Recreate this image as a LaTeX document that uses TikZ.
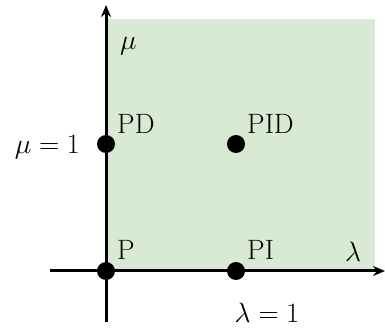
\RequirePackage{fix-cm}
\documentclass[tikz,border=0pt]{standalone}
\usetikzlibrary{arrows.meta}
\definecolor{regiongreen}{RGB}{216,234,211}
\newcommand{\bigtxt}{\fontsize{28}{33}\selectfont}
\begin{document}
\begin{tikzpicture}[x=1pt,y=1pt,
  axisline/.style={line width=3pt,-{Stealth[length=12pt,width=10pt]}},
  dotnode/.style={circle,fill=black,inner sep=0pt,minimum size=18pt},
  lbl/.style={inner sep=0pt,font=\bigtxt}]
\useasboundingbox (0,0) rectangle (385,329);
\fill[regiongreen] (106,58) rectangle (375,310);
\coordinate (xs) at (50,58);
\coordinate (xe) at (385,58);
\coordinate (ys) at (106,7);
\coordinate (ye) at (106,324);
\draw[axisline] (xs) -- (xe);
\draw[axisline] (ys) -- (ye);
\node[dotnode] (P) at (106,58) {};
\node[dotnode] (PI) at (236,58) {};
\node[dotnode] (PD) at (106,185) {};
\node[dotnode] (PID) at (236,185) {};
\node[lbl,anchor=base west] (lP) at (117,69) {P};
\node[lbl,anchor=base west] (lPI) at (247,69) {PI};
\node[lbl,anchor=base west] (lPD) at (117,195) {PD};
\node[lbl,anchor=base west] (lPID) at (247,195) {PID};
\node[lbl,anchor=base west] (lam) at (345,67) {$\lambda$};
\node[lbl,anchor=base west] (mu) at (120,279) {$\mu$};
\node[lbl,anchor=base east] (mu1) at (80,175) {$\mu=1$};
\node[lbl,anchor=base] (lam1) at (267,7) {$\lambda=1$};
\end{tikzpicture}
\end{document}
